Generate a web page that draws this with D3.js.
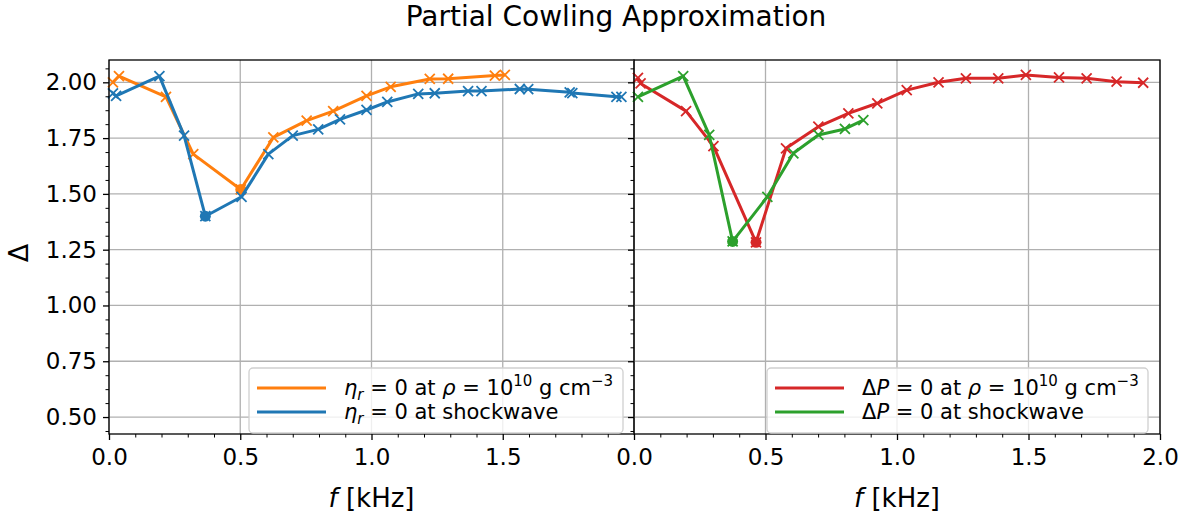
<!DOCTYPE html>
<html>
<head>
<meta charset="utf-8">
<script src="https://cdn.jsdelivr.net/npm/d3@7"></script>
<style>
  body { margin: 0; background: #fff; }
  text { font-family: "DejaVu Sans", sans-serif; fill: #000; }
</style>
</head>
<body>
<svg id="chart" width="1188" height="515"></svg>
<script>
// values (f in kHz, Delta dimensionless)
const ORANGE_F = [0.015, 0.038, 0.217, 0.321, 0.502, 0.626, 0.753, 0.854, 0.981, 1.073, 1.222, 1.292, 1.470, 1.508];
const ORANGE_D = [2.000, 2.028, 1.935, 1.678, 1.520, 1.753, 1.828, 1.871, 1.939, 1.980, 2.015, 2.016, 2.030, 2.033];

const BLUE_F = [0.015, 0.027, 0.192, 0.286, 0.367, 0.505, 0.607, 0.700, 0.797, 0.880, 0.981, 1.060, 1.178, 1.241, 1.368, 1.419, 1.565, 1.597, 1.755, 1.765, 1.933, 1.952];
const BLUE_D = [1.950, 1.939, 2.028, 1.761, 1.400, 1.487, 1.678, 1.761, 1.789, 1.834, 1.876, 1.912, 1.948, 1.951, 1.961, 1.961, 1.970, 1.969, 1.955, 1.952, 1.935, 1.935];

const RED_F = [0.015, 0.025, 0.198, 0.302, 0.464, 0.578, 0.701, 0.815, 0.925, 1.037, 1.158, 1.262, 1.385, 1.490, 1.616, 1.721, 1.835, 1.936];
const RED_D = [2.020, 1.995, 1.871, 1.714, 1.283, 1.704, 1.801, 1.861, 1.906, 1.965, 2.000, 2.018, 2.018, 2.033, 2.022, 2.018, 2.003, 1.998];

const GREEN_F = [0.015, 0.187, 0.286, 0.375, 0.507, 0.606, 0.701, 0.802, 0.872];
const GREEN_D = [1.935, 2.028, 1.764, 1.287, 1.487, 1.682, 1.764, 1.791, 1.831];

const Y_TICKS = [0.50, 0.75, 1.00, 1.25, 1.50, 1.75, 2.00];
const X_TICKS = [0.0, 0.5, 1.0, 1.5, 2.0];

const TITLE = "Partial Cowling Approximation";

// legend labels as mathtext-like segments
const LEFT_LABELS = [
  [{ t: "η", i: 1 }, { t: "r", i: 1, sub: 1 }, { t: " = 0 at " }, { t: "ρ", i: 1 }, { t: " = 10" }, { t: "10", sup: 1 }, { t: " g cm" }, { t: "−3", sup: 1 }],
  [{ t: "η", i: 1 }, { t: "r", i: 1, sub: 1 }, { t: " = 0 at shockwave" }]
];
const RIGHT_LABELS = [
  [{ t: "Δ" }, { t: "P", i: 1 }, { t: " = 0 at " }, { t: "ρ", i: 1 }, { t: " = 10" }, { t: "10", sup: 1 }, { t: " g cm" }, { t: "−3", sup: 1 }],
  [{ t: "Δ" }, { t: "P", i: 1 }, { t: " = 0 at shockwave" }]
];

const COLORS = { orange: "#ff7f0e", blue: "#1f77b4", red: "#d62728", green: "#2ca02c" };

const svg = d3.select("#chart");
const plotTop = 60, plotBottom = 434;

const y = d3.scaleLinear().domain([0.424, 2.1]).range([plotBottom, plotTop]);

const panels = [
  {
    x: d3.scaleLinear().domain([0, 2]).range([109, 634]),
    series: [
      { f: ORANGE_F, d: ORANGE_D, color: COLORS.orange },
      { f: BLUE_F, d: BLUE_D, color: COLORS.blue }
    ],
    labels: LEFT_LABELS,
    xticks: X_TICKS.slice(0, 4),
    yLabels: true,
    legend: { x0: 249, x1: 623 }
  },
  {
    x: d3.scaleLinear().domain([0, 2]).range([634, 1160]),
    series: [
      { f: RED_F, d: RED_D, color: COLORS.red },
      { f: GREEN_F, d: GREEN_D, color: COLORS.green }
    ],
    labels: RIGHT_LABELS,
    xticks: X_TICKS,
    yLabels: false,
    legend: { x0: 767, x1: 1148 }
  }
];

const minorY = d3.range(0.4375, 2.1, 0.0625).filter(v => Math.abs((v / 0.25) - Math.round(v / 0.25)) > 1e-6);
const minorX = d3.range(0, 2.01, 0.1).filter(v => Math.abs(v * 2 - Math.round(v * 2)) > 1e-6);

panels.forEach(p => {
  const x = p.x;
  const [x0, x1] = x.range();
  const g = svg.append("g");

  // grid
  g.append("g").selectAll("line").data(X_TICKS).join("line")
    .attr("x1", d => x(d)).attr("x2", d => x(d))
    .attr("y1", plotTop).attr("y2", plotBottom)
    .attr("stroke", "#b0b0b0").attr("stroke-width", 1.3);
  g.append("g").selectAll("line").data(Y_TICKS).join("line")
    .attr("x1", x0).attr("x2", x1)
    .attr("y1", d => y(d)).attr("y2", d => y(d))
    .attr("stroke", "#b0b0b0").attr("stroke-width", 1.3);

  // series
  p.series.forEach(s => {
    const pts = s.f.map((f, i) => [f, s.d[i]]);
    const line = d3.line().x(d => x(d[0])).y(d => y(d[1]));
    g.append("path").datum(pts)
      .attr("d", line)
      .attr("fill", "none")
      .attr("stroke", s.color)
      .attr("stroke-width", 3)
      .attr("stroke-linejoin", "round");
    const m = 5;
    g.append("g").selectAll("path").data(pts).join("path")
      .attr("d", d => {
        const cx = x(d[0]), cy = y(d[1]);
        return `M${cx - m},${cy - m}L${cx + m},${cy + m}M${cx - m},${cy + m}L${cx + m},${cy - m}`;
      })
      .attr("stroke", s.color).attr("stroke-width", 1.8).attr("fill", "none");
    const low = pts[d3.minIndex(pts, d => d[1])];
    g.append("circle")
      .attr("cx", x(low[0])).attr("cy", y(low[1])).attr("r", 5.5)
      .attr("fill", s.color);
  });

  // spines
  g.append("rect")
    .attr("x", x0).attr("y", plotTop)
    .attr("width", x1 - x0).attr("height", plotBottom - plotTop)
    .attr("fill", "none").attr("stroke", "#000").attr("stroke-width", 1.3);

  // x axis
  const xAxis = g.append("g").attr("transform", `translate(0,${plotBottom})`)
    .call(d3.axisBottom(x).tickValues(p.xticks).tickFormat(d3.format(".1f")).tickSize(6).tickSizeOuter(0).tickPadding(9));
  xAxis.select(".domain").remove();
  xAxis.selectAll("line").attr("stroke", "#000").attr("stroke-width", 1.3);
  xAxis.selectAll("text").attr("font-size", 23).attr("font-family", "DejaVu Sans").attr("fill", "#000");
  g.append("g").attr("transform", `translate(0,${plotBottom})`)
    .call(d3.axisBottom(x).tickValues(minorX).tickFormat("").tickSize(3.5).tickSizeOuter(0))
    .call(a => a.select(".domain").remove())
    .selectAll("line").attr("stroke", "#000").attr("stroke-width", 1);

  // y axis
  const yAxis = g.append("g").attr("transform", `translate(${x0},0)`)
    .call(d3.axisLeft(y).tickValues(Y_TICKS).tickFormat(p.yLabels ? d3.format(".2f") : "").tickSize(6).tickSizeOuter(0).tickPadding(6));
  yAxis.select(".domain").remove();
  yAxis.selectAll("line").attr("stroke", "#000").attr("stroke-width", 1.3);
  yAxis.selectAll("text").attr("font-size", 23).attr("font-family", "DejaVu Sans").attr("fill", "#000");
  g.append("g").attr("transform", `translate(${x0},0)`)
    .call(d3.axisLeft(y).tickValues(minorY).tickFormat("").tickSize(3.5).tickSizeOuter(0))
    .call(a => a.select(".domain").remove())
    .selectAll("line").attr("stroke", "#000").attr("stroke-width", 1);

  // x label
  const xl = g.append("text")
    .attr("x", (x0 + x1) / 2).attr("y", 507)
    .attr("text-anchor", "middle").attr("font-size", 26);
  xl.append("tspan").attr("font-style", "italic").text("f");
  xl.append("tspan").text(" [kHz]");

  // legend
  const L = p.legend;
  g.append("rect")
    .attr("x", L.x0).attr("y", 368)
    .attr("width", L.x1 - L.x0).attr("height", 65)
    .attr("rx", 4)
    .attr("fill", "#fff").attr("fill-opacity", 0.8)
    .attr("stroke", "#d0d0d0").attr("stroke-width", 1.3);
  p.labels.forEach((segs, i) => {
    const cy = 388 + i * 24;
    g.append("line")
      .attr("x1", L.x0 + 8).attr("x2", L.x0 + 77)
      .attr("y1", cy).attr("y2", cy)
      .attr("stroke", p.series[i].color).attr("stroke-width", 3);
    const t = g.append("text")
      .attr("x", L.x0 + 95).attr("y", cy + 7)
      .attr("font-size", 21);
    let shift = 0;
    segs.forEach(s => {
      const target = s.sup ? -9 : s.sub ? 5 : 0;
      t.append("tspan")
        .attr("dy", target - shift)
        .attr("font-style", s.i ? "italic" : null)
        .attr("font-size", s.sup || s.sub ? 15 : null)
        .text(s.t);
      shift = target;
    });
  });
});

// y label
svg.append("text")
  .attr("transform", `translate(28,${(plotTop + plotBottom) / 2 + 6}) rotate(-90)`)
  .attr("text-anchor", "middle")
  .attr("font-size", 27)
  .text("Δ");

// title
svg.append("text")
  .attr("x", 616).attr("y", 26)
  .attr("text-anchor", "middle")
  .attr("font-size", 28)
  .text(TITLE);
</script>
</body>
</html>
